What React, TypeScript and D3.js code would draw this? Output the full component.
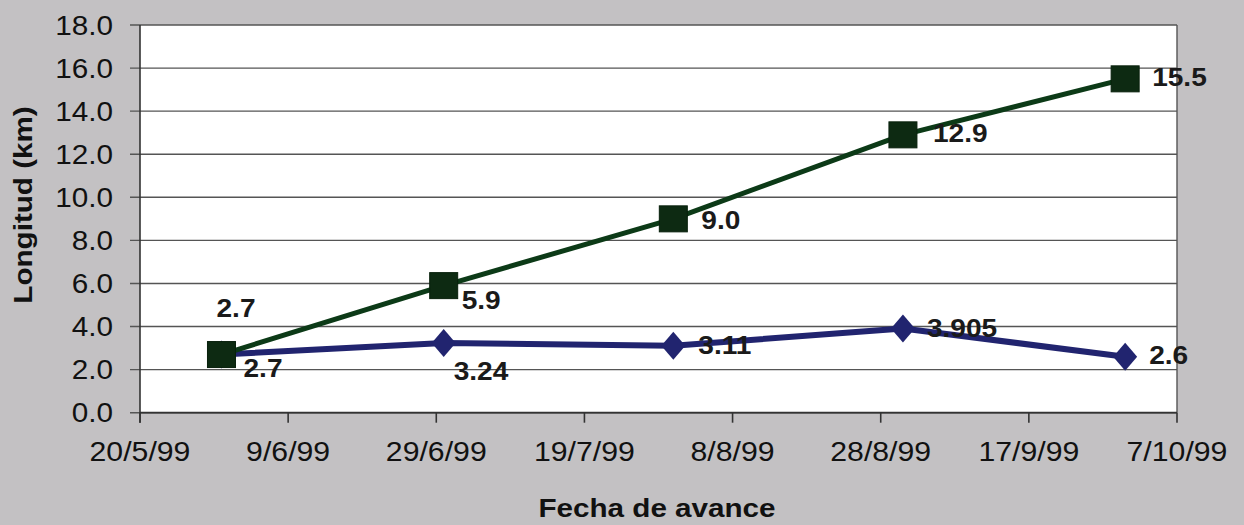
import React from "react";
import * as d3 from "d3";

const dates = ["1999-05-31", "1999-06-30", "1999-07-31", "1999-08-31", "1999-09-30"];
const greenValues = [2.7, 5.9, 9.0, 12.9, 15.5];
const blueValues = [2.7, 3.24, 3.11, 3.905, 2.6];
const greenLabels = ["2.7", "5.9", "9.0", "12.9", "15.5"];
const blueLabels = ["2.7", "3.24", "3.11", "3.905", "2.6"];
const xTickDates = ["1999-05-20", "1999-06-09", "1999-06-29", "1999-07-19", "1999-08-08", "1999-08-28", "1999-09-17", "1999-10-07"];
const yTicks = [0, 2, 4, 6, 8, 10, 12, 14, 16, 18];

// label placement offsets (px, relative to marker centre)
const greenLabelPos = [[-5, -46], [18, 15], [28, 2], [30, -1], [27, -1]];
const blueLabelPos = [[22, 14], [10, 28], [25, 0], [24, 0], [24, -1]];

const W = 1244, H = 525;
const M = { left: 140, right: 1177, top: 25, bottom: 412.7 };
const FONT = "'Liberation Sans', Arial, sans-serif";

const parse = (s: string) => new Date(s + "T00:00:00Z");

export default function App() {
  const x = d3.scaleUtc().domain([parse(xTickDates[0]), parse(xTickDates[xTickDates.length - 1])]).range([M.left, M.right]);
  const y = d3.scaleLinear().domain([0, 18]).range([M.bottom, M.top]);
  const line = d3.line<[Date, number]>().x((d) => x(d[0])).y((d) => y(d[1]));
  const gPts: [Date, number][] = dates.map((d, i) => [parse(d), greenValues[i]]);
  const bPts: [Date, number][] = dates.map((d, i) => [parse(d), blueValues[i]]);
  const fmt = (d: Date) => `${d.getUTCDate()}/${d.getUTCMonth() + 1}/${String(d.getUTCFullYear()).slice(2)}`;

  const green = "#0c3a17";
  const greenFill = "#0d2a12";
  const blue = "#21246f";
  const grid = "#555";

  return (
    <svg width={W} height={H} style={{ position: "absolute", left: 0, top: 0 }} fontFamily={FONT}>
      <rect x={0} y={0} width={W} height={H} fill="#c3c1c3" />
      <rect x={M.left} y={M.top} width={M.right - M.left} height={M.bottom - M.top} fill="#ffffff" />
      {yTicks.map((t) => (
        <g key={t}>
          <line x1={M.left - 10} x2={M.right} y1={y(t)} y2={y(t)} stroke={grid} strokeWidth={1.4} />
          <text transform={`translate(113,${y(t)}) scale(1.1,1)`} textAnchor="end" dominantBaseline="central" fontSize={27} fill="#111">
            {t.toFixed(1)}
          </text>
        </g>
      ))}
      <line x1={M.right} x2={M.right} y1={M.top} y2={M.bottom} stroke={grid} strokeWidth={1.4} />
      <line x1={M.left} x2={M.left} y1={M.top} y2={M.bottom + 10} stroke="#333" strokeWidth={1.6} />
      <line x1={M.left} x2={M.right} y1={M.bottom} y2={M.bottom} stroke="#333" strokeWidth={1.8} />
      {xTickDates.map((s) => {
        const d = parse(s);
        return (
          <g key={s}>
            <line x1={x(d)} x2={x(d)} y1={M.bottom} y2={M.bottom + 10} stroke="#333" strokeWidth={1.6} />
            <text transform={`translate(${x(d)},452) scale(1.12,1)`} textAnchor="middle" dominantBaseline="central" fontSize={27} fill="#111">
              {fmt(d)}
            </text>
          </g>
        );
      })}
      <text transform="translate(657,508) scale(1.14,1)" textAnchor="middle" dominantBaseline="central" fontSize={26} fontWeight="bold" fill="#111">
        Fecha de avance
      </text>
      <text transform="translate(23,205) rotate(-90) scale(1.14,1)" textAnchor="middle" dominantBaseline="central" fontSize={26} fontWeight="bold" fill="#111">
        Longitud (km)
      </text>

      <path d={line(bPts) || ""} fill="none" stroke={blue} strokeWidth={6} strokeLinejoin="round" />
      {bPts.map((p, i) => {
        const cx = x(p[0]), cy = y(p[1]);
        return <polygon key={i} points={`${cx},${cy - 14} ${cx + 12},${cy} ${cx},${cy + 14} ${cx - 12},${cy}`} fill={blue} />;
      })}
      <path d={line(gPts) || ""} fill="none" stroke={green} strokeWidth={5} strokeLinejoin="round" />
      {gPts.map((p, i) => {
        const cx = x(p[0]), cy = y(p[1]);
        return <rect key={i} x={cx - 14} y={cy - 13} width={28} height={26} fill={greenFill} stroke="#08200c" strokeWidth={1} />;
      })}
      {gPts.map((p, i) => (
        <text key={"g" + i} transform={`translate(${x(p[0]) + greenLabelPos[i][0]},${y(p[1]) + greenLabelPos[i][1]}) scale(1.08,1)`} dominantBaseline="central" fontSize={26} fontWeight="bold" fill="#1a1a1a">
          {greenLabels[i]}
        </text>
      ))}
      {bPts.map((p, i) => (
        <text key={"b" + i} transform={`translate(${x(p[0]) + blueLabelPos[i][0]},${y(p[1]) + blueLabelPos[i][1]}) scale(1.08,1)`} dominantBaseline="central" fontSize={26} fontWeight="bold" fill="#1a1a1a">
          {blueLabels[i]}
        </text>
      ))}
    </svg>
  );
}
